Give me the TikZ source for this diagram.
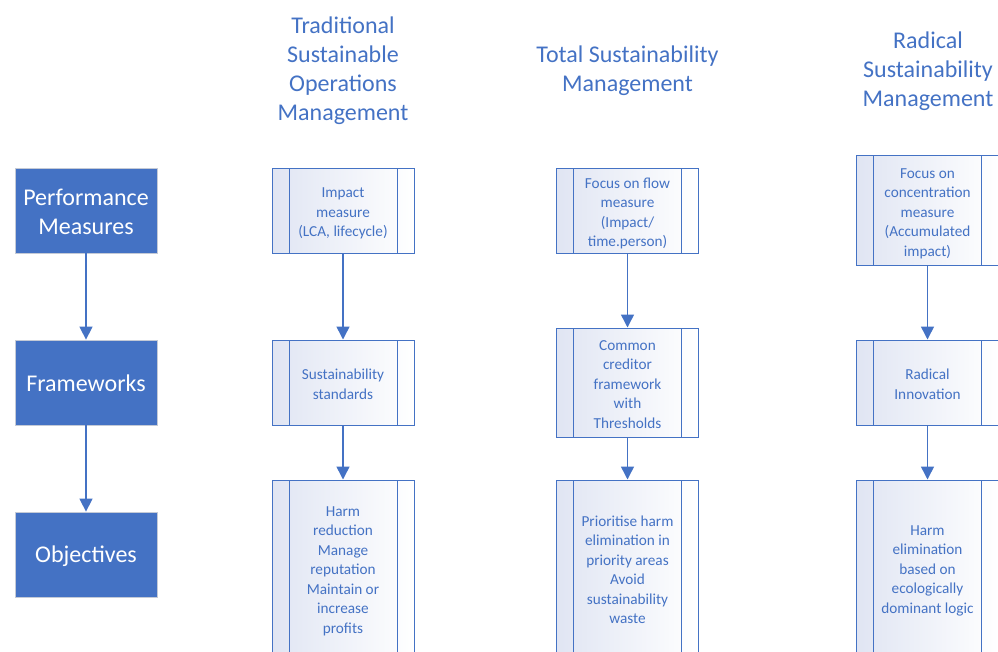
\documentclass[tikz,border=0pt]{standalone}
\usepackage{fontspec}
\setmainfont{Carlito}
\usetikzlibrary{arrows.meta}
\definecolor{accent}{RGB}{68,114,196}
\definecolor{tint}{RGB}{224,229,243}
\definecolor{edge}{RGB}{196,202,214}
% left-to-right fade used inside the process boxes
\pgfdeclarehorizontalshading{boxfade}{100bp}{color(0bp)=(tint); color(25bp)=(tint); color(75bp)=(white); color(100bp)=(white)}
% evenly spaced centred lines; the optional value lowers them by half its size
\newcommand\stacked[2][6pt]{\raisebox{0pt}[\dimexpr\height+#1\relax][\depth]{\begin{tabular}{@{}c@{}}#2\end{tabular}}}
\tikzset{
  stage/.style={rectangle, fill=accent, draw=edge, line width=0.8pt,
    minimum width=142pt, minimum height=85pt, text=white,
    font=\fontsize{24}{29}\selectfont, inner sep=0pt},
  heading/.style={text=accent, font=\fontsize{24}{29}\selectfont,
    align=center, inner sep=0pt},
  % process box: shaded rectangle with a bar on each side
  procbox/.style={rectangle, draw=accent, line width=1pt,
    shading=boxfade, shading angle=0, text=accent,
    font=\fontsize{15.25}{19.5}\selectfont, inner sep=0pt,
    minimum width=142pt,
    path picture={\draw[accent, line width=1pt]
      ([xshift=17pt]path picture bounding box.north west) --
      ([xshift=17pt]path picture bounding box.south west)
      ([xshift=-17pt]path picture bounding box.north east) --
      ([xshift=-17pt]path picture bounding box.south east);}},
  flow/.style={draw=accent, line width=1.5pt,
    -{Triangle[length=13pt,width=13pt]}}
}
\begin{document}
\begin{tikzpicture}[x=1pt, y=-1pt]
\useasboundingbox (0,0) rectangle (998,651);
\clip (0,0) rectangle (998,651);

% column headings
\node[heading] (h1) at (343,71) {Traditional\\Sustainable\\Operations\\Management};
\node[heading] (h2) at (627.5,70.5) {Total Sustainability\\Management};
\node[heading] (h3) at (928,71) {Radical\\Sustainability\\Management};

% row labels
\node[stage] (pm) at (86,210.5) {\stacked[8pt]{Performance\\Measures}};
\node[stage] (fw) at (86,382.5) {\stacked{Frameworks}};
\node[stage] (ob) at (86,554.5) {\stacked[5pt]{Objectives}};

% traditional sustainable operations management
\node[procbox, minimum height=85pt] (a1) at (343,210.5) {\stacked{Impact\\measure\\(LCA, lifecycle)}};
\node[procbox, minimum height=85pt] (a2) at (343,382.5) {\stacked{Sustainability\\standards}};
\node[procbox, minimum height=176pt] (a3) at (343,568) {\stacked{Harm\\reduction\\Manage\\reputation\\Maintain or\\increase\\profits}};

% total sustainability management
\node[procbox, minimum height=85pt] (b1) at (627.5,210.5) {\stacked{Focus on flow\\measure\\(Impact/\\time.person)}};
\node[procbox, minimum height=109pt] (b2) at (627.5,382.5) {\stacked{Common\\creditor\\framework\\with\\Thresholds}};
\node[procbox, minimum height=176pt] (b3) at (627.5,568) {\stacked{Prioritise harm\\elimination in\\priority areas\\Avoid\\sustainability\\waste}};

% radical sustainability management
\node[procbox, minimum height=110pt] (c1) at (927.5,210) {\stacked[7pt]{Focus on\\concentration\\measure\\(Accumulated\\impact)}};
\node[procbox, minimum height=85pt] (c2) at (927.5,382.5) {\stacked{Radical\\Innovation}};
\node[procbox, minimum height=176pt] (c3) at (927.5,568) {\stacked[5pt]{Harm\\elimination\\based on\\ecologically\\dominant logic}};

% connectors
\draw[flow] (pm) -- (fw);
\draw[flow] (fw) -- (ob);
\draw[flow] (a1) -- (a2);
\draw[flow] (a2) -- (a3);
\draw[flow] (b1) -- (b2);
\draw[flow] (b2) -- (b3);
\draw[flow] (c1) -- (c2);
\draw[flow] (c2) -- (c3);
\end{tikzpicture}
\end{document}
